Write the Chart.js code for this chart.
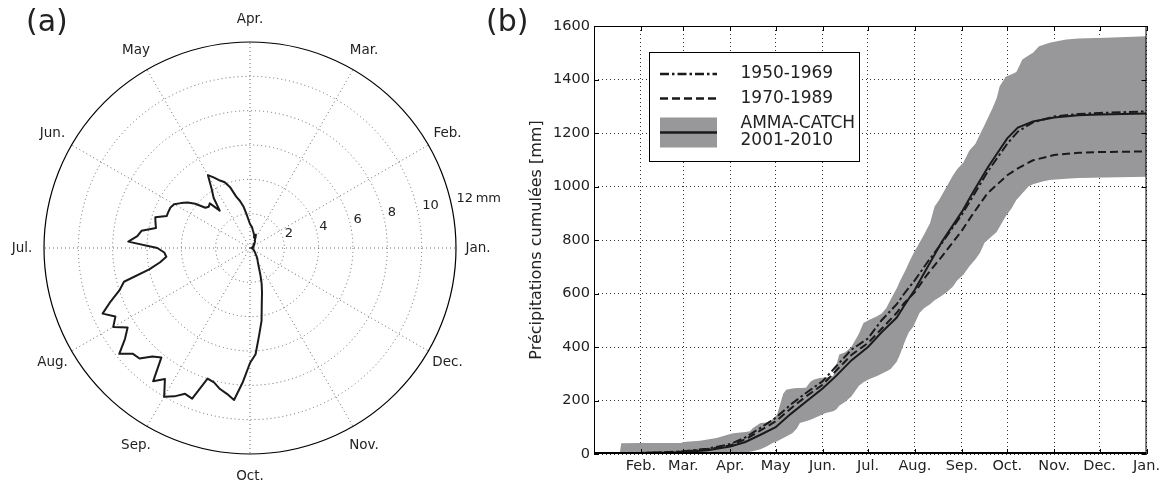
<!DOCTYPE html>
<html>
<head>
<meta charset="utf-8">
<script src="https://cdn.jsdelivr.net/npm/chart.js@4.4.0/dist/chart.umd.min.js"></script>
<style>
  html, body { margin: 0; padding: 0; background: #fff; }
  #wrap { position: relative; width: 1164px; height: 482px; overflow: hidden; }
  .panel { position: absolute; top: 0; height: 482px; }
  #polarBox { left: 0; width: 500px; }
  #cumBox { left: 480px; width: 684px; }
</style>
</head>
<body>
<div id="wrap">
  <div class="panel" id="polarBox"><canvas id="polarChart"></canvas></div>
  <div class="panel" id="cumBox"><canvas id="cumChart"></canvas></div>
</div>
<script>
// ---- (a) mean daily rainfall [mm], one value every 3 degrees, counter-clockwise from Jan.
var polarStep = 3;
var dailyRain = [
  0.1, 0.1, 0.15, 0.1, 0.15, 0.2, 0.15, 0.2, 0.2, 0.25,
  0.2, 0.25, 0.3, 0.3, 0.35, 0.3, 0.4, 0.45, 0.5, 0.5,
  0.6, 0.7, 0.85, 0.65, 0.8, 0.85, 0.95, 1.05, 1.2, 1.3,
  1.4, 1.65, 2.0, 2.45, 2.8, 3.1, 3.7, 4.1, 4.3, 4.6,
  4.9, 4.1, 3.6, 2.8, 3.5, 3.4, 3.5, 4.1, 4.5, 4.8,
  5.1, 5.2, 5.2, 5.2, 5.8, 5.7, 5.6, 6.4, 6.6, 7.1,
  5.4, 5.0, 4.9, 5.3, 6.0, 7.6, 8.0, 8.7, 9.4, 8.8,
  9.2, 8.5, 9.0, 9.8, 9.2, 9.1, 8.5, 8.2, 9.6, 9.1,
  10.0, 9.7, 9.3, 9.4, 8.0, 8.1, 8.4, 8.6, 8.9, 7.8,
  6.7, 6.2, 5.1, 4.3, 3.3, 2.7, 2.2, 1.7, 1.3, 1.05,
  0.9, 0.8, 0.7, 0.6, 0.5, 0.45, 0.4, 0.35, 0.3, 0.3,
  0.25, 0.25, 0.2, 0.2, 0.2, 0.15, 0.15, 0.1, 0.1, 0.1
];
var monthNames = ['Jan.', 'Feb.', 'Mar.', 'Apr.', 'May', 'Jun.', 'Jul.', 'Aug.', 'Sep.', 'Oct.', 'Nov.', 'Dec.'];
var radialTicks = [2, 4, 6, 8, 10, 12];

// ---- (b) cumulative rainfall [mm] against day of year
var monthTickDays = [31, 59, 90, 120, 151, 181, 212, 243, 273, 304, 334, 365];
var monthTickLabels = ['Feb.', 'Mar.', 'Apr.', 'May', 'Jun.', 'Jul.', 'Aug.', 'Sep.', 'Oct.', 'Nov.', 'Dec.', 'Jan.'];

var lineDays = [0, 10, 20, 31, 45, 59, 75, 90, 100, 110, 120, 130, 140, 151, 160, 170, 181,
  190, 200, 205, 212, 220, 230, 243, 250, 260, 273, 280, 290, 304, 320, 334, 350, 365];
var cum1950 = [0, 1, 2, 4, 6, 10, 20, 37, 62, 98, 135, 185, 228, 272, 328, 390, 432,
  500, 560, 600, 650, 715, 790, 895, 960, 1055, 1160, 1205, 1240, 1262, 1271, 1275, 1278, 1281];
var cum1970 = [0, 1, 2, 4, 6, 9, 18, 32, 55, 88, 122, 170, 215, 259, 312, 370, 415,
  468, 528, 565, 605, 670, 740, 835, 895, 975, 1042, 1068, 1098, 1118, 1126, 1129, 1130, 1131];
var cumAmma = [0, 1, 2, 4, 5, 7, 14, 28, 45, 72, 100, 150, 195, 245, 292, 350, 400,
  455, 510, 555, 615, 695, 795, 905, 975, 1070, 1180, 1220, 1243, 1258, 1266, 1269, 1271, 1273];

var bandDays = [0, 17, 18, 31, 45, 57, 61, 70, 81, 90,
  92, 100, 103, 105, 110, 114, 116, 118, 121, 125,
  127, 131, 134, 136, 140, 143, 145, 149, 153, 158,
  160, 162, 166, 170, 175, 178, 182, 187, 190, 193,
  196, 200, 202, 206, 208, 211, 215, 218, 222, 225,
  228, 233, 237, 240, 244, 248, 252, 255, 258, 263,
  266, 268, 272, 276, 279, 283, 287, 290, 294, 297,
  301, 305, 312, 320, 338, 365];
var ammaMax = [0, 3, 40, 41, 41, 41, 46, 50, 60, 75,
  78, 82, 85, 97, 116, 118, 122, 130, 148, 225,
  240, 245, 247, 247, 248, 270, 278, 284, 286, 292,
  330, 372, 380, 400, 450, 490, 502, 515, 525, 545,
  578, 620, 645, 690, 715, 750, 790, 820, 864, 925,
  950, 1000, 1040, 1065, 1090, 1135, 1160, 1195, 1230, 1290,
  1330, 1375, 1410, 1420, 1428, 1475, 1490, 1500, 1524, 1530,
  1537, 1542, 1550, 1553, 1556, 1562];
var ammaMin = [0, 0, 0, 0, 0, 0, 0, 0, 1, 2,
  4, 6, 8, 10, 18, 28, 35, 41, 48, 60,
  65, 78, 95, 116, 122, 128, 133, 143, 153, 160,
  166, 180, 195, 215, 255, 268, 280, 292, 300, 308,
  318, 345, 370, 430, 455, 477, 527, 545, 560, 575,
  585, 605, 625, 650, 670, 702, 728, 752, 790, 815,
  830, 850, 889, 920, 950, 975, 1000, 1008, 1015, 1020,
  1024, 1026, 1029, 1032, 1034, 1036];

var textColor = '#222';
var lineBlack = '#1a1a1a';
var bandGrey = '#98989a';
var FONT = '"DejaVu Sans", sans-serif';

Chart.defaults.font.family = FONT;
Chart.defaults.color = textColor;

function xy(xs, ys) {
  return xs.map(function (x, i) { return { x: x, y: ys[i] }; });
}

// ------------------------------------------------------------------ (a)
var N = dailyRain.length;
// radar runs clockwise, the figure runs counter-clockwise: walk the data backwards
var radarLabels = [];
var radarData = [];
for (var i = 0; i < N; i++) {
  var k = (N - i) % N;
  radarData.push(dailyRain[k]);
  radarLabels.push(k % 10 === 0 ? monthNames[k / 10] : '');
}

var polarDecor = {
  id: 'polarDecor',
  beforeDatasetsDraw: function (chart) {
    var r = chart.scales.r;
    var ctx = chart.ctx;
    ctx.save();
    ctx.beginPath();
    ctx.arc(r.xCenter, r.yCenter, r.getDistanceFromCenterForValue(12), 0, Math.PI * 2);
    ctx.strokeStyle = '#000';
    ctx.lineWidth = 1.2;
    ctx.stroke();
    ctx.restore();
  },
  afterDraw: function (chart) {
    var r = chart.scales.r;
    var ctx = chart.ctx;
    ctx.save();
    ctx.fillStyle = textColor;
    ctx.font = '13.5px ' + FONT;
    ctx.textAlign = 'center';
    ctx.textBaseline = 'middle';
    monthNames.forEach(function (m, j) {
      var p = r.getPointPosition((N - j * 10) % N, r.drawingArea * 1.107);
      ctx.fillText(m, p.x, p.y);
    });
    ctx.font = '13px ' + FONT;
    ctx.textAlign = 'left';
    radialTicks.forEach(function (v) {
      var d = r.getDistanceFromCenterForValue(v);
      var txt = v === 12 ? '12\u2009mm' : String(v);
      ctx.fillText(txt, r.xCenter + d + 0.5, r.yCenter - 8 - 0.2 * d);
    });
    ctx.font = '30px ' + FONT;
    ctx.textBaseline = 'alphabetic';
    ctx.fillText('(a)', 26, 31);
    ctx.restore();
  }
};

new Chart(document.getElementById('polarChart'), {
  type: 'radar',
  data: {
    labels: radarLabels,
    datasets: [{
      label: 'Pluie journalière',
      data: radarData,
      borderColor: lineBlack,
      borderWidth: 2,
      borderJoinStyle: 'round',
      fill: false,
      pointRadius: 0,
      pointHitRadius: 0,
      tension: 0
    }]
  },
  options: {
    responsive: true,
    maintainAspectRatio: false,
    animation: false,
    events: [],
    layout: { padding: { left: 44, right: 44, top: 42, bottom: 28 } },
    plugins: { legend: { display: false }, tooltip: { enabled: false } },
    scales: {
      r: {
        min: 0,
        max: 12,
        startAngle: 90,
        ticks: { stepSize: 2, display: false },
        pointLabels: { display: false },
        grid: {
          circular: true,
          color: function (c) { return c.tick && c.tick.value >= 12 ? 'rgba(0,0,0,0)' : '#666'; },
          lineWidth: 1
        },
        border: { dash: [1, 3] },
        angleLines: {
          color: '#666',
          lineWidth: function (c) { return c.index % 10 === 0 ? 1 : 0; },
          borderDash: [1, 3]
        }
      }
    }
  },
  plugins: [polarDecor]
});

// ------------------------------------------------------------------ (b)
var legendItems = [
  { ds: 0, lines: ['1950-1969'], y: 74 },
  { ds: 1, lines: ['1970-1989'], y: 98.5 },
  { ds: 2, lines: ['AMMA-CATCH', '2001-2010'], y: 132.5, patch: true }
];

var cumDecor = {
  id: 'cumDecor',
  afterDraw: function (chart) {
    var ctx = chart.ctx;
    var a = chart.chartArea;
    var xs = chart.scales.x;
    var ys = chart.scales.y;
    ctx.save();

    // frame and inward ticks
    ctx.strokeStyle = '#000';
    ctx.lineWidth = 1;
    ctx.strokeRect(a.left + 0.5, a.top + 0.5, a.right - a.left - 1, a.bottom - a.top - 1);
    ctx.beginPath();
    monthTickDays.forEach(function (d) {
      var x = Math.round(xs.getPixelForValue(d)) + 0.5;
      ctx.moveTo(x, a.bottom); ctx.lineTo(x, a.bottom - 5);
      ctx.moveTo(x, a.top); ctx.lineTo(x, a.top + 5);
    });
    ys.ticks.forEach(function (t) {
      var y = Math.round(ys.getPixelForValue(t.value)) + 0.5;
      ctx.moveTo(a.left, y); ctx.lineTo(a.left + 5, y);
      ctx.moveTo(a.right, y); ctx.lineTo(a.right - 5, y);
    });
    ctx.stroke();
    ctx.lineWidth = 2;
    ctx.beginPath();
    ctx.moveTo(a.left, a.bottom - 1);
    ctx.lineTo(a.right, a.bottom - 1);
    ctx.stroke();

    // legend
    var bx = 169.5, by = 52.5, bw = 210, bh = 109;
    ctx.fillStyle = '#fff';
    ctx.fillRect(bx, by, bw, bh);
    ctx.lineWidth = 1;
    ctx.strokeStyle = '#000';
    ctx.strokeRect(bx, by, bw, bh);
    ctx.font = '17px ' + FONT;
    ctx.textAlign = 'left';
    ctx.textBaseline = 'middle';
    legendItems.forEach(function (it) {
      var ds = chart.data.datasets[it.ds];
      if (it.patch) {
        ctx.fillStyle = bandGrey;
        ctx.fillRect(180, it.y - 15, 57, 30);
      }
      ctx.strokeStyle = ds.borderColor;
      ctx.lineWidth = ds.borderWidth + 0.5;
      ctx.setLineDash(ds.borderDash || []);
      ctx.beginPath();
      ctx.moveTo(180, it.y);
      ctx.lineTo(237, it.y);
      ctx.stroke();
      ctx.setLineDash([]);
      ctx.fillStyle = textColor;
      if (it.lines.length === 1) {
        ctx.fillText(it.lines[0], 260.5, it.y);
      } else {
        ctx.fillText(it.lines[0], 260.5, it.y - 9);
        ctx.fillText(it.lines[1], 260.5, it.y + 8.5);
      }
    });

    ctx.font = '30px ' + FONT;
    ctx.textBaseline = 'alphabetic';
    ctx.fillStyle = textColor;
    ctx.fillText('(b)', 6, 31);
    ctx.restore();
  }
};

new Chart(document.getElementById('cumChart'), {
  type: 'line',
  data: {
    datasets: [
      {
        label: '1950-1969',
        data: xy(lineDays, cum1950),
        borderColor: lineBlack,
        borderWidth: 2,
        borderDash: [9, 3, 2.5, 3],
        fill: false
      },
      {
        label: '1970-1989',
        data: xy(lineDays, cum1970),
        borderColor: lineBlack,
        borderWidth: 2,
        borderDash: [8, 4],
        fill: false
      },
      {
        label: 'AMMA-CATCH 2001-2010',
        data: xy(lineDays, cumAmma),
        borderColor: lineBlack,
        borderWidth: 2,
        fill: false
      },
      {
        label: 'AMMA-CATCH max',
        data: xy(bandDays, ammaMax),
        borderColor: 'rgba(0,0,0,0)',
        borderWidth: 0,
        backgroundColor: bandGrey,
        fill: '+1'
      },
      {
        label: 'AMMA-CATCH min',
        data: xy(bandDays, ammaMin),
        borderColor: 'rgba(0,0,0,0)',
        borderWidth: 0,
        fill: false
      }
    ]
  },
  options: {
    responsive: true,
    maintainAspectRatio: false,
    animation: false,
    events: [],
    layout: { padding: { left: 0, right: 17, top: 26, bottom: 0 } },
    elements: { point: { radius: 0, hitRadius: 0 }, line: { tension: 0 } },
    plugins: { legend: { display: false }, tooltip: { enabled: false } },
    scales: {
      x: {
        type: 'linear',
        min: 0,
        max: 365,
        afterBuildTicks: function (s) {
          s.ticks = monthTickDays.map(function (d) { return { value: d }; });
        },
        afterFit: function (s) { s.height = 28; },
        ticks: {
          autoSkip: false,
          maxRotation: 0,
          padding: 4,
          color: textColor,
          font: { size: 14.5 },
          callback: function (v, idx) { return monthTickLabels[idx]; }
        },
        grid: { color: '#333', lineWidth: 1, drawTicks: false },
        border: { display: false, dash: [1, 3] }
      },
      y: {
        min: 0,
        max: 1600,
        afterFit: function (s) { s.width = 114; },
        ticks: {
          stepSize: 200,
          padding: 4,
          color: textColor,
          font: { size: 14.5 },
          callback: function (v) { return String(v); }
        },
        grid: { color: '#333', lineWidth: 1, drawTicks: false },
        border: { display: false, dash: [1, 3] },
        title: {
          display: true,
          text: 'Précipitations cumulées [mm]',
          color: textColor,
          font: { size: 16 },
          padding: { top: 47, bottom: 0 }
        }
      }
    }
  },
  plugins: [cumDecor]
});
</script>
</body>
</html>
